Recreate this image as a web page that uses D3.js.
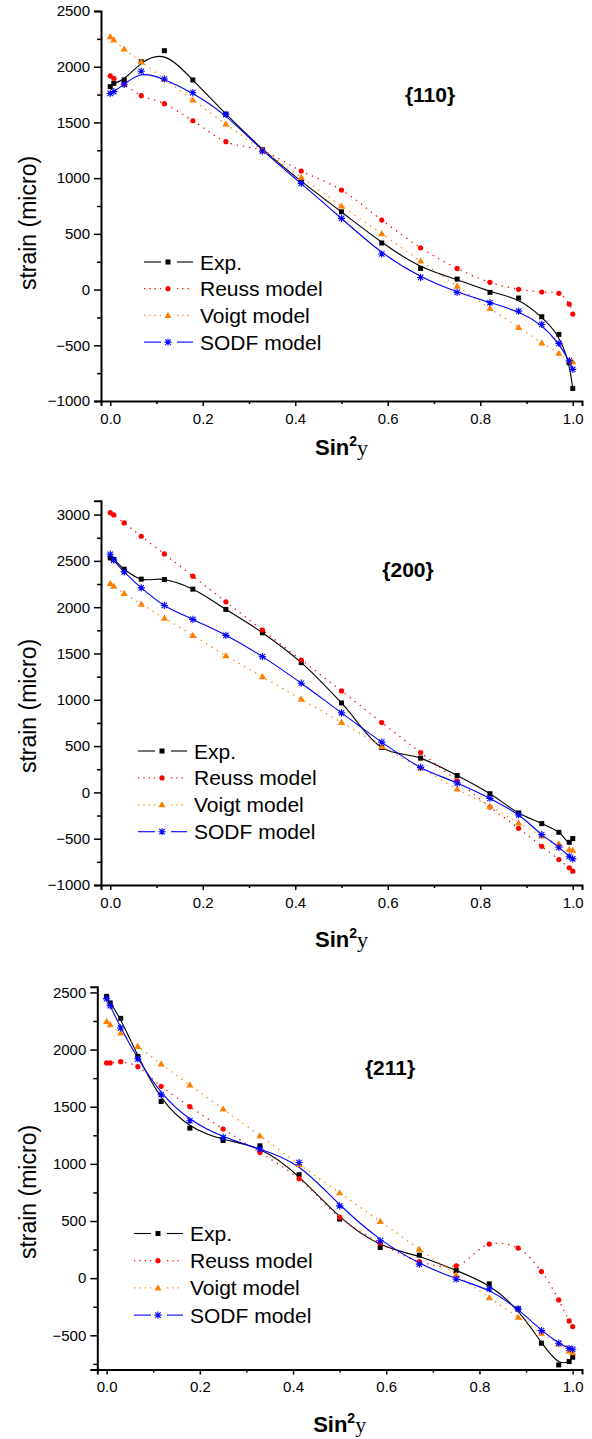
<!DOCTYPE html>
<html>
<head>
<meta charset="utf-8">
<script src="https://cdnjs.cloudflare.com/ajax/libs/d3/7.8.5/d3.min.js"></script>
<style>
  body { margin: 0; background: #fff; }
  svg text { font-family: "Liberation Sans", Arial, sans-serif; fill: #000; }
</style>
</head>
<body>
<svg id="chart" width="592" height="1439"></svg>
<script>
// sin^2(psi) positions, psi = 0..90 deg in 5 deg steps
var sin2psi = [0, 0.0076, 0.0302, 0.067, 0.117, 0.1786, 0.25, 0.329, 0.413, 0.5,
               0.587, 0.671, 0.75, 0.821, 0.883, 0.933, 0.970, 0.9924, 1.0];

var seriesNames = ["Exp.", "Reuss model", "Voigt model", "SODF model"];

// {110}
var exp110   = [1821, 1851, 1881, 2045, 2144, 1881, 1573, 1255, 968, 698, 418, 190, 94, -25, -76, -244, -402, -657, -887];
var reuss110 = [1917, 1896, 1842, 1740, 1668, 1515, 1327, 1245, 1064, 893, 624, 375, 190, 65, 2, -22, -34, -130, -220];
var voigt110 = [2270, 2240, 2159, 2045, 1890, 1701, 1486, 1252, 1007, 750, 502, 256, 31, -169, -339, -478, -572, -639, -648];
var sodf110  = [1761, 1776, 1842, 1959, 1890, 1767, 1573, 1243, 953, 639, 319, 109, -25, -118, -193, -313, -483, -639, -716];

// {200}
var exp200   = [2532, 2515, 2410, 2303, 2299, 2195, 1976, 1724, 1401, 966, 485, 370, 183, -14, -222, -337, -431, -539, -499];
var reuss200 = [3021, 2996, 2910, 2766, 2575, 2335, 2058, 1753, 1430, 1096, 754, 431, 126, -158, -388, -582, -725, -815, -851];
var voigt200 = [2256, 2227, 2149, 2033, 1882, 1696, 1476, 1250, 1006, 756, 496, 263, 36, -151, -330, -470, -556, -617, -625];
var sodf200  = [2572, 2508, 2381, 2209, 2019, 1868, 1696, 1466, 1179, 859, 543, 270, 101, -65, -244, -456, -593, -690, -718];

// {211}
var exp211   = [2466, 2408, 2273, 1940, 1546, 1313, 1205, 1158, 905, 517, 268, 201, 67, -50, -269, -569, -759, -730, -692];
var reuss211 = [1883, 1883, 1894, 1850, 1678, 1500, 1305, 1100, 870, 534, 306, 145, 108, 298, 263, 58, -190, -374, -424];
var voigt211 = [2247, 2218, 2145, 2028, 1874, 1690, 1480, 1246, 995, 747, 496, 254, 29, -170, -342, -482, -575, -637, -652];
var sodf211  = [2446, 2384, 2189, 1918, 1605, 1377, 1231, 1130, 1012, 632, 327, 123, -9, -94, -269, -459, -569, -613, -622];

var xTicks = [0, 0.2, 0.4, 0.6, 0.8, 1.0];
var xMinor = [0.1, 0.3, 0.5, 0.7, 0.9];

var colors = ["#000000", "#ff0000", "#ff8000", "#0000ff"];

var panels = [
  { title: "{110}", data: [exp110, reuss110, voigt110, sodf110],
    x0: 101, x1: 582, yTop: 11, yBot: 401, ydom: [-1000, 2500],
    yTicks: [-1000, -500, 0, 500, 1000, 1500, 2000, 2500],
    yMinor: [-750, -250, 250, 750, 1250, 1750, 2250],
    titleX: 430, titleY: 102, legX: 168, legY: 262, legStep: 26.7,
    yTitleY: 223, xTitleY: 455, solidCurve: d3.curveBasis },
  { title: "{200}", data: [exp200, reuss200, voigt200, sodf200],
    x0: 101, x1: 582, yTop: 500.7, yBot: 885, ydom: [-1000, 3150],
    yTicks: [-1000, -500, 0, 500, 1000, 1500, 2000, 2500, 3000],
    yMinor: [-750, -250, 250, 750, 1250, 1750, 2250, 2750],
    titleX: 408, titleY: 577, legX: 162, legY: 751, legStep: 26.9,
    yTitleY: 706, xTitleY: 947, solidCurve: d3.curveCatmullRom },
  { title: "{211}", data: [exp211, reuss211, voigt211, sodf211],
    x0: 97.3, x1: 582, yTop: 986.7, yBot: 1369.6, ydom: [-800, 2550],
    yTicks: [-500, 0, 500, 1000, 1500, 2000, 2500],
    yMinor: [-750, -250, 250, 750, 1250, 1750, 2250],
    titleX: 390, titleY: 1075, legX: 158, legY: 1233.5, legStep: 27.2,
    yTitleY: 1192, xTitleY: 1432, solidCurve: d3.curveBasis }
];

var svg = d3.select("#chart");

function starPath(r) {
  var d = r * 0.75;
  return "M" + (-r) + ",0L" + r + ",0M0," + (-r) + "L0," + r +
         "M" + (-d) + "," + (-d) + "L" + d + "," + d +
         "M" + (-d) + "," + d + "L" + d + "," + (-d);
}

function drawMarker(g, k, cx, cy) {
  var c = colors[k];
  if (k === 0) {
    g.append("rect").attr("x", cx - 2.5).attr("y", cy - 2.5)
      .attr("width", 5).attr("height", 5).attr("fill", c);
  } else if (k === 1) {
    g.append("circle").attr("cx", cx).attr("cy", cy).attr("r", 2.6).attr("fill", c);
  } else if (k === 2) {
    g.append("path").attr("transform", "translate(" + cx + "," + (cy + 0.5) + ")")
      .attr("d", d3.symbol(d3.symbolTriangle, 22)()).attr("fill", c);
  } else {
    g.append("path").attr("transform", "translate(" + cx + "," + cy + ")")
      .attr("d", starPath(3.6)).attr("stroke", c).attr("stroke-width", 1.1).attr("fill", "none");
  }
}

panels.forEach(function(p) {
  var x = d3.scaleLinear().domain([-0.02, 1.02]).range([p.x0, p.x1]);
  var y = d3.scaleLinear().domain(p.ydom).range([p.yBot, p.yTop]);
  var g = svg.append("g");

  // axes
  var yAxis = d3.axisLeft(y).tickValues(p.yTicks).tickSize(7).tickPadding(4).tickFormat(d3.format("d"));
  var yAx = g.append("g").attr("transform", "translate(" + p.x0 + ",0)").call(yAxis);
  var yMin = g.append("g").attr("transform", "translate(" + p.x0 + ",0)")
    .call(d3.axisLeft(y).tickValues(p.yMinor).tickSize(4).tickFormat(""));
  var xAxis = d3.axisBottom(x).tickValues(xTicks).tickSize(5).tickPadding(7).tickFormat(d3.format(".1f"));
  var xAx = g.append("g").attr("transform", "translate(0," + p.yBot + ")").call(xAxis);
  var xMin = g.append("g").attr("transform", "translate(0," + p.yBot + ")")
    .call(d3.axisBottom(x).tickValues(xMinor).tickSize(3).tickFormat(""));

  [yAx, yMin, xAx, xMin].forEach(function(a) {
    a.selectAll(".domain").attr("stroke", "#000").attr("stroke-width", 2);
    a.selectAll(".tick line").attr("stroke", "#000").attr("stroke-width", 1.5);
    a.selectAll("text").attr("font-size", 15).attr("font-family", "Liberation Sans, Arial, sans-serif").attr("fill", "#000");
  });
  yMin.select(".domain").remove();
  xMin.select(".domain").remove();

  // series
  p.data.forEach(function(vals, k) {
    var pts = vals.map(function(v, i) { return [sin2psi[i], v]; });
    var dotted = (k === 1 || k === 2);
    var line = d3.line()
      .x(function(d) { return x(d[0]); })
      .y(function(d) { return y(d[1]); })
      .curve(dotted ? d3.curveCatmullRom : p.solidCurve);
    g.append("path").datum(pts)
      .attr("d", line)
      .attr("fill", "none")
      .attr("stroke", colors[k])
      .attr("stroke-width", dotted ? 1.3 : 1.1)
      .attr("stroke-dasharray", dotted ? "1.3,5" : null);
  });
  p.data.forEach(function(vals, k) {
    vals.forEach(function(v, i) { drawMarker(g, k, x(sin2psi[i]), y(v)); });
  });

  // title
  g.append("text").attr("x", p.titleX).attr("y", p.titleY)
    .attr("text-anchor", "middle").attr("font-size", 21).attr("font-weight", "bold")
    .text(p.title);

  // legend
  seriesNames.forEach(function(name, k) {
    var cy = p.legY + k * p.legStep;
    var dotted = (k === 1 || k === 2);
    [[p.legX - 24, p.legX - 7], [p.legX + 9, p.legX + 25]].forEach(function(seg) {
      g.append("line").attr("x1", seg[0]).attr("x2", seg[1]).attr("y1", cy).attr("y2", cy)
        .attr("stroke", colors[k]).attr("stroke-width", dotted ? 1.3 : 1.1)
        .attr("stroke-dasharray", dotted ? "1.3,4" : null);
    });
    drawMarker(g, k, p.legX, cy);
    g.append("text").attr("x", p.legX + 32).attr("y", cy + 7.5)
      .attr("font-size", 21).text(name);
  });

  // axis titles
  g.append("text")
    .attr("transform", "translate(36," + p.yTitleY + ") rotate(-90)")
    .attr("text-anchor", "middle").attr("font-size", 23)
    .text("strain (micro)");

  var xt = g.append("text").attr("x", (p.x0 + p.x1) / 2).attr("y", p.xTitleY)
    .attr("text-anchor", "middle").attr("font-size", 22).attr("font-weight", "bold");
  xt.append("tspan").text("Sin");
  xt.append("tspan").attr("dy", -9).attr("font-size", 14).text("2");
  xt.append("tspan").attr("dy", 9).attr("font-weight", "normal")
    .attr("font-family", "Liberation Serif, Times New Roman, serif").text("y");
});
</script>
</body>
</html>
